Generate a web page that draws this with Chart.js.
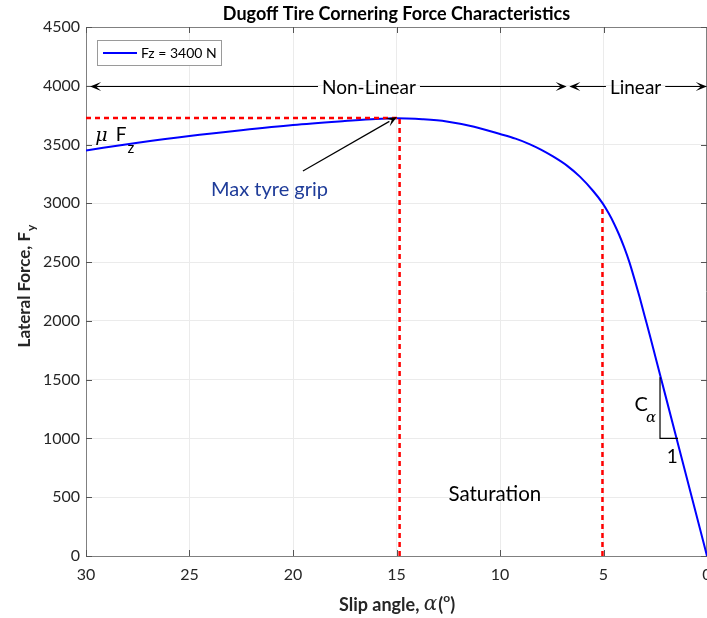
<!DOCTYPE html>
<html>
<head>
<meta charset="utf-8">
<script src="https://cdn.jsdelivr.net/npm/chart.js@4.4.1/dist/chart.umd.min.js"></script>
<style>
  html, body { margin: 0; padding: 0; background: #ffffff; overflow: hidden; }
  #wrap { width: 727px; height: 618px; }
</style>
</head>
<body>
<div id="wrap"><canvas id="c" width="727" height="618"></canvas></div>
<script>
// ---- data ----
const slipAngleDeg = [0, 1.0, 2.0, 2.5, 2.75, 3.0, 3.25, 3.5, 3.75, 4.0, 4.25, 4.5, 4.75, 5.04, 5.5, 6.14, 6.75, 7.42, 8.0, 8.55, 9.25, 10, 11.25, 12.58, 13.75, 14.5, 15, 16, 17.5, 20, 22.5, 25, 27.5, 30];
const lateralForceN = [0, 680, 1360, 1700, 1870, 2034, 2198, 2353, 2500, 2625, 2735, 2831, 2915, 3000, 3105, 3227, 3319, 3397, 3455, 3502, 3550, 3590, 3652, 3697, 3716, 3722, 3723, 3718, 3700, 3666, 3622, 3573, 3515, 3450];
const seriesLabel = 'Fz = 3400 N';

const peakAlpha = 14.85, peakForce = 3725;      // max tyre grip
const linearAlpha = 5.05, linearForce = 2970;   // end of linear region
const slopeAlphas = [2.27, 2.27, 1.4];
const slopeForces = [1520, 1000, 1000];
const regionArrowForce = 4000;

const xTickValues = [0, 5, 10, 15, 20, 25, 30];
const yTickValues = [0, 500, 1000, 1500, 2000, 2500, 3000, 3500, 4000, 4500];

const FONT = 'Lato, "Open Sans", sans-serif';
const TXT = '#262626';
const AXIS = '#808080';

function toPts(xs, ys) { return xs.map((x, i) => ({ x: x, y: ys[i] })); }

function arrowHead(ctx, tx, ty, dirX, dirY) {
  const L = 11, W = 4.5, N = 6;
  const len = Math.hypot(dirX, dirY); const ux = dirX / len, uy = dirY / len;
  const nx = -uy, ny = ux;
  ctx.beginPath();
  ctx.moveTo(tx, ty);
  ctx.lineTo(tx - ux * L + nx * W, ty - uy * L + ny * W);
  ctx.lineTo(tx - ux * N, ty - uy * N);
  ctx.lineTo(tx - ux * L - nx * W, ty - uy * L - ny * W);
  ctx.closePath();
  ctx.fill();
}

const decor = {
  id: 'decor',
  beforeDatasetsDraw(chart) {
    const ctx = chart.ctx, a = chart.chartArea;
    ctx.save();
    ctx.strokeStyle = AXIS; ctx.lineWidth = 1;
    ctx.beginPath();
    ctx.moveTo(a.left, a.top + 0.5); ctx.lineTo(a.right, a.top + 0.5);
    ctx.moveTo(a.right - 0.5, a.top); ctx.lineTo(a.right - 0.5, a.bottom);
    ctx.stroke();
    ctx.restore();
  },
  afterDatasetsDraw(chart) {
    const ctx = chart.ctx, a = chart.chartArea;
    const xs = chart.scales.x, ys = chart.scales.y;
    const px = v => xs.getPixelForValue(v), py = v => ys.getPixelForValue(v);
    ctx.save();
    // inward ticks
    ctx.strokeStyle = '#555555'; ctx.lineWidth = 1;
    ctx.beginPath();
    yTickValues.forEach(v => {
      const y = Math.round(py(v)) + 0.5;
      ctx.moveTo(a.left, y); ctx.lineTo(a.left + 6, y);
      ctx.moveTo(a.right, y); ctx.lineTo(a.right - 6, y);
    });
    xTickValues.forEach(v => {
      const x = Math.round(px(v)) + 0.5;
      ctx.moveTo(x, a.bottom); ctx.lineTo(x, a.bottom - 6);
      ctx.moveTo(x, a.top); ctx.lineTo(x, a.top + 6);
    });
    ctx.stroke();

    // legend
    const lx = a.left + 11, ly = a.top + 13, lw = 124, lh = 25;
    ctx.fillStyle = '#ffffff'; ctx.fillRect(lx, ly, lw, lh);
    ctx.strokeStyle = '#9a9a9a'; ctx.strokeRect(lx + 0.5, ly + 0.5, lw, lh);
    ctx.strokeStyle = '#0000ff'; ctx.lineWidth = 2;
    ctx.beginPath(); ctx.moveTo(lx + 6, ly + 13); ctx.lineTo(lx + 40, ly + 13); ctx.stroke();
    ctx.fillStyle = '#000000'; ctx.font = '14px ' + FONT;
    ctx.textBaseline = 'middle'; ctx.textAlign = 'left';
    ctx.fillText(seriesLabel, lx + 44, ly + 13.5);

    // region arrows
    ctx.strokeStyle = '#000000'; ctx.fillStyle = '#000000'; ctx.lineWidth = 1.2;
    ctx.font = '19px ' + FONT; ctx.textAlign = 'center'; ctx.textBaseline = 'middle';
    const yA = Math.round(py(regionArrowForce)) + 0.5;
    function regionArrow(label, aLeft, aRight, aText) {
      const xl = px(aLeft), xr = px(aRight), xt = px(aText);
      const hw = ctx.measureText(label).width / 2 + 4;
      ctx.beginPath();
      ctx.moveTo(xl + 6, yA); ctx.lineTo(xt - hw, yA);
      ctx.moveTo(xt + hw, yA); ctx.lineTo(xr - 6, yA);
      ctx.stroke();
      arrowHead(ctx, xl, yA, -1, 0);
      arrowHead(ctx, xr, yA, 1, 0);
      ctx.fillText(label, xt, yA + 1);
    }
    regionArrow('Non-Linear', 29.8, 6.78, 16.33);
    regionArrow('Linear', 6.65, 0.01, 3.45);

    // max grip arrow
    const sx = px(19.52), sy = py(3275), tx = px(14.98), ty = py(3734);
    ctx.lineWidth = 1.2;
    ctx.beginPath(); ctx.moveTo(sx, sy); ctx.lineTo(tx - (tx - sx) * 0.08, ty - (ty - sy) * 0.08); ctx.stroke();
    arrowHead(ctx, tx, ty, tx - sx, ty - sy);

    // mu F_z
    ctx.textAlign = 'left'; ctx.textBaseline = 'alphabetic';
    let x0 = px(29.55), yb = py(3594) + 7;
    ctx.font = 'italic 19px "DejaVu Serif", serif';
    ctx.fillText('\u03BC', x0, yb);
    x0 += ctx.measureText('\u03BC').width + 8;
    ctx.font = '19px ' + FONT;
    ctx.fillText('F', x0, yb);
    x0 += ctx.measureText('F').width + 1;
    ctx.font = '15px ' + FONT;
    ctx.fillText('z', x0, yb + 12);

    // Max tyre grip
    ctx.fillStyle = '#1f3c99'; ctx.font = '20px ' + FONT;
    ctx.fillText('Max tyre grip', px(23.96), py(3113) + 6);

    // Saturation
    ctx.fillStyle = '#000000'; ctx.textAlign = 'center'; ctx.textBaseline = 'middle';
    ctx.font = '20.5px ' + FONT;
    ctx.fillText('Saturation', px(10.25), py(520));

    // C_alpha and 1
    ctx.textAlign = 'left'; ctx.textBaseline = 'alphabetic';
    ctx.font = '20px ' + FONT;
    ctx.fillText('C', px(3.5), py(1230));
    ctx.font = 'italic 15px "DejaVu Serif", serif';
    ctx.fillText('\u03B1', px(2.95), py(1140));
    ctx.font = '19px ' + FONT;
    ctx.fillText('1', px(1.95), py(790));

    // title
    ctx.textAlign = 'center'; ctx.textBaseline = 'middle';
    ctx.font = 'bold 18px ' + FONT; ctx.fillStyle = '#000000';
    ctx.fillText('Dugoff Tire Cornering Force Characteristics', (a.left + a.right) / 2, 14);

    // x axis title: Slip angle, α(°)
    ctx.fillStyle = TXT;
    const cx = (a.left + a.right) / 2, cy = 605;
    const p1 = 'Slip angle, ', p2 = '\u03B1', p3 = '(', p4 = 'o', p5 = ')';
    const fB = 'bold 18px ' + FONT, fA = 'italic 20px "DejaVu Serif", serif', fS = 'bold 12px ' + FONT;
    ctx.font = fB; const w1 = ctx.measureText(p1).width, w3 = ctx.measureText(p3).width, w5 = ctx.measureText(p5).width;
    ctx.font = fA; const w2 = ctx.measureText(p2).width;
    ctx.font = fS; const w4 = ctx.measureText(p4).width;
    let xx = cx - (w1 + w2 + w3 + w4 + w5) / 2;
    ctx.textAlign = 'left';
    ctx.font = fB; ctx.fillText(p1, xx, cy); xx += w1;
    ctx.font = fA; ctx.fillText(p2, xx, cy); xx += w2 + 1;
    ctx.font = fB; ctx.fillText(p3, xx, cy); xx += w3;
    ctx.font = fS; ctx.fillText(p4, xx, cy - 7); xx += w4;
    ctx.font = fB; ctx.fillText(p5, xx, cy);

    // y axis title: Lateral Force, F_y
    const fY = 'bold 17px ' + FONT;
    ctx.save();
    ctx.translate(25, 286);
    ctx.rotate(-Math.PI / 2);
    const q1 = 'Lateral Force, F', q2 = 'y';
    ctx.font = fY; const v1 = ctx.measureText(q1).width;
    ctx.font = 'bold 12px ' + FONT; const v2 = ctx.measureText(q2).width;
    let yy = -(v1 + v2 + 1) / 2;
    ctx.font = fY; ctx.fillText(q1, yy, 0); yy += v1 + 1;
    ctx.font = 'bold 12px ' + FONT; ctx.fillText(q2, yy, 6);
    ctx.restore();

    ctx.restore();
  }
};

const redDash = { borderColor: '#ff0000', borderWidth: 2.5, borderDash: [5, 4], pointRadius: 0, fill: false, order: 0 };

new Chart(document.getElementById('c'), {
  type: 'line',
  data: {
    datasets: [
      Object.assign({ data: toPts([30, peakAlpha], [peakForce, peakForce]) }, redDash),
      Object.assign({ data: toPts([peakAlpha, peakAlpha], [0, peakForce]) }, redDash),
      Object.assign({ data: toPts([linearAlpha, linearAlpha], [0, linearForce]) }, redDash),
      { data: toPts(slopeAlphas, slopeForces), borderColor: '#000000', borderWidth: 1.2, pointRadius: 0, fill: false, order: 0 },
      { label: seriesLabel, data: toPts(slipAngleDeg, lateralForceN), borderColor: '#0000ff', borderWidth: 2,
        pointRadius: 0, fill: false, cubicInterpolationMode: 'monotone', order: 1 }
    ]
  },
  options: {
    responsive: false,
    animation: false,
    layout: { padding: { left: 0, right: 20, top: 27, bottom: 0 } },
    plugins: { legend: { display: false }, tooltip: { enabled: false }, title: { display: false } },
    scales: {
      x: {
        type: 'linear', reverse: true, min: 0, max: 30,
        afterBuildTicks: s => { s.ticks = xTickValues.map(v => ({ value: v })); },
        afterFit: s => { s.height = 62; },
        grid: { color: '#ebebeb', drawTicks: false },
        border: { color: AXIS, width: 1 },
        ticks: { padding: 9, color: TXT, font: { family: FONT, size: 16 }, callback: v => String(v) }
      },
      y: {
        type: 'linear', min: 0, max: 4500,
        afterBuildTicks: s => { s.ticks = yTickValues.map(v => ({ value: v })); },
        afterFit: s => { s.width = 86; },
        grid: { color: '#ebebeb', drawTicks: false },
        border: { color: AXIS, width: 1 },
        ticks: { padding: 6, color: TXT, font: { family: FONT, size: 16 }, callback: v => String(v) }
      }
    }
  },
  plugins: [decor]
});
</script>
</body>
</html>
